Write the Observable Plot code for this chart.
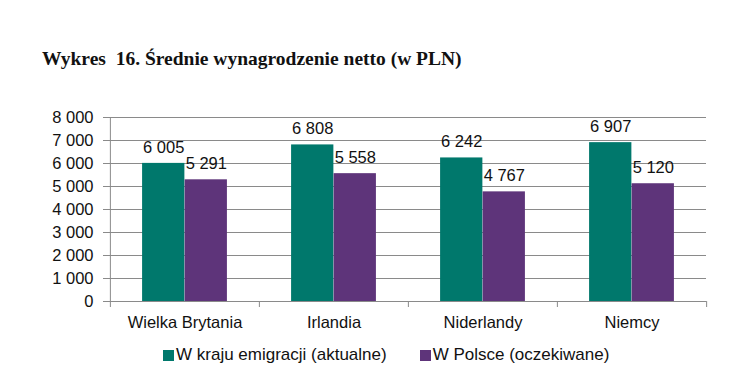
<!DOCTYPE html>
<html><head><meta charset="utf-8">
<script src="https://cdn.jsdelivr.net/npm/d3@7"></script>
<script src="https://cdn.jsdelivr.net/npm/@observablehq/plot@0.6"></script>
<style>
body{margin:0;background:#fff;width:741px;height:389px;overflow:hidden;font-family:"Liberation Sans",Arial,sans-serif;}
#title{box-sizing:border-box;height:90px;padding:49px 0 0 42px;font:bold 19.5px/1 "Liberation Serif","Times New Roman",serif;color:#111;white-space:pre}
#chart svg{display:block}
#legend{display:flex;align-items:center;padding-left:163px;gap:33px;font-size:17px;line-height:20px;color:#111;margin-top:9px}
.item{display:flex;align-items:center;white-space:nowrap}
.sw{width:11px;height:11px;margin-right:2px}
</style></head>
<body>
<div id="title">Wykres  16. Średnie wynagrodzenie netto (w PLN)</div>
<div id="chart"></div>
<div id="legend"></div>
<script>
const countries = ["Wielka Brytania", "Irlandia", "Niderlandy", "Niemcy"];
const series = ["W kraju emigracji (aktualne)", "W Polsce (oczekiwane)"];
const current = [6005, 6808, 6242, 6907];
const expected = [5291, 5558, 4767, 5120];
const yTicks = [0, 1000, 2000, 3000, 4000, 5000, 6000, 7000, 8000];
const colors = ["#00786c", "#5e347a"];

const W = 741, H = 246, mL = 109, mR = 35, mT = 27, mB = 35;
const step = (W - mL - mR) / countries.length;
const group = step * 0.57, barW = group / 2, outer = (step - group) / 2;
const gray = "#8a8a8a";
const fmt = d => d3.format(",")(d).replace(/,/g, " ");

const cur = countries.map((c, i) => ({country: c, value: current[i]}));
const exp = countries.map((c, i) => ({country: c, value: expected[i]}));
const bounds = countries.map((c, i) => ({country: c, dx: -step / 2})).concat([{country: countries[countries.length - 1], dx: step / 2}]);

const plot = Plot.plot({
  width: W, height: H,
  marginLeft: mL, marginRight: mR, marginTop: mT, marginBottom: mB,
  style: {fontSize: "16.5px", fontFamily: "'Liberation Sans', Arial, sans-serif", color: "#111", background: "#fff"},
  x: {domain: countries, padding: 0, axis: null},
  y: {domain: [0, 8000], axis: null},
  marks: [
    Plot.ruleY(yTicks, {stroke: gray, strokeWidth: 1}),
    Plot.barY(cur, {x: "country", y: "value", fill: colors[0], insetLeft: outer, insetRight: outer + barW}),
    Plot.barY(exp, {x: "country", y: "value", fill: colors[1], insetLeft: outer + barW, insetRight: outer}),
    Plot.ruleX([countries[0]], {dx: -step / 2, stroke: gray}),
    ...bounds.map(b => Plot.ruleX([b], {x: "country", y1: 0, y2: 0, insetBottom: -6, dx: b.dx, stroke: gray})),
    Plot.text(cur, {x: "country", y: "value", text: d => fmt(d.value), dx: -barW / 2, dy: -16, fill: "#111"}),
    Plot.text(exp, {x: "country", y: "value", text: d => fmt(d.value), dx: barW / 2, dy: -16, fill: "#111"}),
    Plot.axisY({ticks: yTicks, tickFormat: fmt, tickSize: 6, tickPadding: 10, stroke: gray, label: null}),
    Plot.axisX({tickSize: 0, tickPadding: 15, label: null})
  ]
});
document.getElementById("chart").appendChild(plot);

const legend = document.getElementById("legend");
series.forEach((s, i) => {
  const item = document.createElement("div");
  item.className = "item";
  const sw = document.createElement("span");
  sw.className = "sw";
  sw.style.background = colors[i];
  item.appendChild(sw);
  item.appendChild(document.createTextNode(s));
  legend.appendChild(item);
});
</script>
</body></html>
